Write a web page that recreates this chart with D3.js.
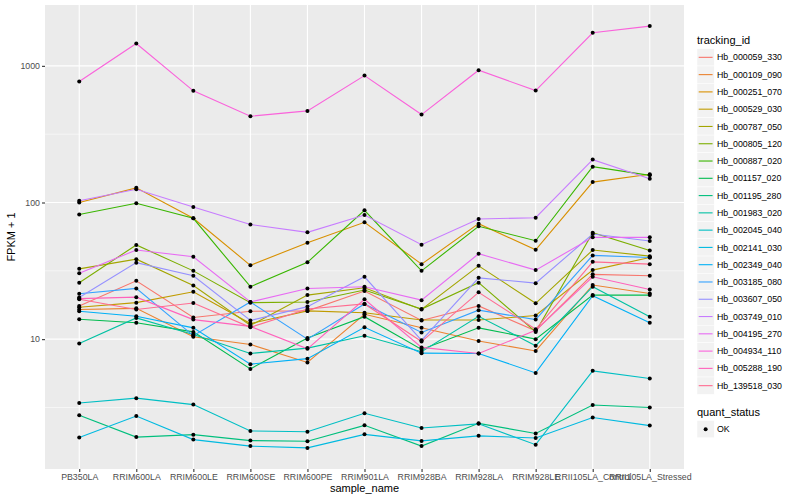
<!DOCTYPE html>
<html>
<head>
<meta charset="utf-8">
<script src="https://cdn.jsdelivr.net/npm/d3@7"></script>
<style>
  body { margin: 0; background: #fff; }
  text { font-family: "Liberation Sans", Arial, sans-serif; }
</style>
</head>
<body>
<div class="chart"></div>
<script>
// samples on the x axis
var sampleNames = ["PB350LA", "RRIM600LA", "RRIM600LE", "RRIM600SE", "RRIM600PE", "RRIM901LA",
  "RRIM928BA", "RRIM928LA", "RRIM928LE", "RRII105LA_Control", "RRII105LA_Stressed"];

// FPKM + 1 per gene
var hb_000059_330 = [17.5, 26.7, 14.4, 16.0, 16.1, 22.5, 13.7, 17.5, 11.5, 29.8, 29.1];
var hb_000109_090 = [16.5, 16.8, 10.4, 9.15, 6.75, 15.2, 12.1, 9.7, 8.2, 24.9, 21.6];
var hb_000251_070 = [100, 128, 76.6, 34.7, 50.8, 71.6, 35.4, 70, 45.1, 141, 161];
var hb_000529_030 = [17.1, 18.5, 22.2, 13.0, 16.1, 15.6, 13.8, 13.8, 14.9, 32.0, 39.6];
var hb_000787_050 = [32.7, 38.5, 24.7, 12.6, 21.0, 23.8, 16.5, 34.4, 18.3, 44.9, 40.5];
var hb_000805_120 = [25.9, 48.9, 31.6, 18.5, 18.7, 22.9, 16.6, 25.9, 11.3, 60.1, 44.5];
var hb_000887_020 = [81.8, 98.6, 76.6, 24.2, 36.5, 87.7, 31.6, 67, 52.5, 183, 158];
var hb_001157_020 = [14.0, 13.2, 11.3, 6.06, 10.2, 14.6, 8.4, 12.1, 10.0, 21.0, 21.0];
var hb_001195_280 = [2.77, 1.92, 2.00, 1.81, 1.79, 2.34, 1.65, 2.42, 2.04, 3.30, 3.16];
var hb_001983_020 = [9.3, 14.3, 10.8, 7.86, 8.6, 10.6, 8.1, 14.7, 8.95, 24.2, 14.6];
var hb_002045_040 = [3.41, 3.70, 3.32, 2.13, 2.10, 2.87, 2.24, 2.40, 1.69, 5.86, 5.15];
var hb_002141_030 = [1.91, 2.74, 1.84, 1.65, 1.60, 2.01, 1.80, 1.96, 1.89, 2.67, 2.33];
var hb_002349_040 = [16.0, 14.7, 12.1, 6.56, 7.2, 12.2, 7.9, 7.86, 5.66, 20.8, 13.2];
var hb_003185_080 = [21.5, 23.5, 10.6, 18.7, 10.0, 18.1, 11.2, 16.3, 13.9, 41.0, 39.6];
var hb_003607_050 = [20.2, 36.3, 29.1, 13.7, 17.3, 28.6, 9.8, 28.1, 25.7, 58.8, 52.2];
var hb_003749_010 = [103, 125, 92.7, 69, 60.5, 80.9, 49.1, 75.7, 77.4, 206, 149];
var hb_004195_270 = [30.3, 44.9, 40.1, 18.7, 23.5, 24.2, 19.3, 42.2, 32.0, 55.6, 55.6];
var hb_004934_110 = [768, 1456, 656, 428, 468, 849, 440, 929, 659, 1745, 1954];
var hb_005288_190 = [19.8, 20.3, 13.9, 12.4, 8.5, 19.6, 8.7, 7.86, 11.6, 28.6, 23.1];
var hb_139518_030 = [19.6, 16.5, 18.4, 12.2, 16.6, 18.1, 9.6, 22.0, 11.8, 36.8, 35.4];

var trackingIds = ["Hb_000059_330", "Hb_000109_090", "Hb_000251_070", "Hb_000529_030", "Hb_000787_050",
  "Hb_000805_120", "Hb_000887_020", "Hb_001157_020", "Hb_001195_280", "Hb_001983_020",
  "Hb_002045_040", "Hb_002141_030", "Hb_002349_040", "Hb_003185_080", "Hb_003607_050",
  "Hb_003749_010", "Hb_004195_270", "Hb_004934_110", "Hb_005288_190", "Hb_139518_030"];
var seriesValues = [hb_000059_330, hb_000109_090, hb_000251_070, hb_000529_030, hb_000787_050,
  hb_000805_120, hb_000887_020, hb_001157_020, hb_001195_280, hb_001983_020,
  hb_002045_040, hb_002141_030, hb_002349_040, hb_003185_080, hb_003607_050,
  hb_003749_010, hb_004195_270, hb_004934_110, hb_005288_190, hb_139518_030];
var yTicks = [10, 100, 1000];
var quantStatus = ["OK"];

// ggplot default hue palette for 20 levels
var palette = ["#F8766D", "#EA8331", "#D89000", "#C09B00", "#A3A500", "#7CAE00", "#39B600", "#00BB4E",
  "#00BF7D", "#00C1A3", "#00BFC4", "#00BAE0", "#00B0F6", "#35A2FF", "#9590FF", "#C77CFF",
  "#E76BF3", "#FA62DB", "#FF62BC", "#FF6C91"];

var svgWidth = 800;
var svgHeight = 500;
var panel = {left: 45, right: 684, top: 5, bottom: 469};

var svg = d3.select(".chart")
  .append("svg")
  .attr("width", svgWidth)
  .attr("height", svgHeight);

var series = trackingIds.map(function(id, i) {
  return {id: id, values: seriesValues[i].map(function(v, j) {
    return {sample: sampleNames[j], value: v};
  })};
});

var color = d3.scaleOrdinal().domain(trackingIds).range(palette);

// x is discrete, ggplot pads 0.6 of a step on each side
var xScale = d3.scalePoint()
  .domain(sampleNames)
  .range([panel.left, panel.right])
  .padding(0.6);

// y is log10 with 5% expansion in log space
var allValues = [].concat.apply([], seriesValues);
var lMin = Math.log10(d3.min(allValues));
var lMax = Math.log10(d3.max(allValues));
var pad = (lMax - lMin) * 0.05;
var yScale = d3.scaleLog()
  .domain([Math.pow(10, lMin - pad), Math.pow(10, lMax + pad)])
  .range([panel.bottom, panel.top]);

// panel background
svg.append("rect")
  .attr("x", panel.left)
  .attr("y", panel.top)
  .attr("width", panel.right - panel.left)
  .attr("height", panel.bottom - panel.top)
  .attr("fill", "#EBEBEB");

// minor grid halfway between decades
var minorTicks = [Math.sqrt(10), Math.sqrt(1000), Math.sqrt(100000)];
svg.append("g").selectAll("line")
  .data(minorTicks)
  .enter()
  .append("line")
  .attr("x1", panel.left)
  .attr("x2", panel.right)
  .attr("y1", function(d) { return yScale(d); })
  .attr("y2", function(d) { return yScale(d); })
  .attr("stroke", "#fff")
  .attr("stroke-width", 0.55);

svg.append("g").selectAll("line")
  .data(yTicks)
  .enter()
  .append("line")
  .attr("x1", panel.left)
  .attr("x2", panel.right)
  .attr("y1", function(d) { return yScale(d); })
  .attr("y2", function(d) { return yScale(d); })
  .attr("stroke", "#fff")
  .attr("stroke-width", 1.1);

svg.append("g").selectAll("line")
  .data(sampleNames)
  .enter()
  .append("line")
  .attr("x1", function(d) { return xScale(d); })
  .attr("x2", function(d) { return xScale(d); })
  .attr("y1", panel.top)
  .attr("y2", panel.bottom)
  .attr("stroke", "#fff")
  .attr("stroke-width", 1.1);

// lines
var line = d3.line()
  .x(function(d) { return xScale(d.sample); })
  .y(function(d) { return yScale(d.value); });

svg.append("g").selectAll("path")
  .data(series)
  .enter()
  .append("path")
  .attr("d", function(d) { return line(d.values); })
  .attr("fill", "none")
  .attr("stroke", function(d) { return color(d.id); })
  .attr("stroke-width", 1.1);

// points
svg.append("g").selectAll("g")
  .data(series)
  .enter()
  .append("g")
  .selectAll("circle")
  .data(function(d) { return d.values; })
  .enter()
  .append("circle")
  .attr("cx", function(d) { return xScale(d.sample); })
  .attr("cy", function(d) { return yScale(d.value); })
  .attr("r", 2)
  .attr("fill", "#000");

// axes
var bottomAxis = d3.axisBottom(xScale).tickSize(3).tickPadding(2);
var leftAxis = d3.axisLeft(yScale).tickValues(yTicks).tickFormat(d3.format("d")).tickSize(3).tickPadding(2);

var gx = svg.append("g")
  .attr("transform", "translate(0," + panel.bottom + ")")
  .call(bottomAxis);
var gy = svg.append("g")
  .attr("transform", "translate(" + panel.left + ",0)")
  .call(leftAxis);

[gx, gy].forEach(function(g) {
  g.select(".domain").remove();
  g.selectAll(".tick line").attr("stroke", "#333333").attr("stroke-width", 1.1);
  g.selectAll(".tick text")
    .attr("fill", "#4D4D4D")
    .style("font-size", "8.8px")
    .style("font-family", "'Liberation Sans', Arial, sans-serif");
});

svg.append("text")
  .attr("x", (panel.left + panel.right) / 2)
  .attr("y", 492)
  .attr("text-anchor", "middle")
  .style("font-size", "11px")
  .text("sample_name");

svg.append("text")
  .attr("transform", "rotate(-90)")
  .attr("x", -(panel.top + panel.bottom) / 2)
  .attr("y", 15)
  .attr("text-anchor", "middle")
  .style("font-size", "11px")
  .text("FPKM + 1");

// legend: tracking_id
var keySize = 17.28;
var legendX = 697;
var legendTop = 48.7;

svg.append("text")
  .attr("x", legendX)
  .attr("y", 44)
  .style("font-size", "11px")
  .text("tracking_id");

var keys = svg.append("g").selectAll("g")
  .data(trackingIds)
  .enter()
  .append("g")
  .attr("transform", function(d, i) {
    return "translate(" + legendX + "," + (legendTop + i * keySize) + ")";
  });

keys.append("rect")
  .attr("width", keySize)
  .attr("height", keySize)
  .attr("fill", "#F2F2F2")
  .attr("stroke", "#fff")
  .attr("stroke-width", 0.5);

keys.append("line")
  .attr("x1", 1.7)
  .attr("x2", keySize - 1.7)
  .attr("y1", keySize / 2)
  .attr("y2", keySize / 2)
  .attr("stroke", function(d) { return color(d); })
  .attr("stroke-width", 1.1);

keys.append("text")
  .attr("x", keySize + 2.6)
  .attr("y", keySize / 2 + 3.1)
  .style("font-size", "8.8px")
  .text(function(d) { return d; });

// legend: quant_status
svg.append("text")
  .attr("x", legendX)
  .attr("y", 416)
  .style("font-size", "11px")
  .text("quant_status");

var qKeys = svg.append("g").selectAll("g")
  .data(quantStatus)
  .enter()
  .append("g")
  .attr("transform", function(d, i) {
    return "translate(" + legendX + "," + (420.5 + i * keySize) + ")";
  });

qKeys.append("rect")
  .attr("width", keySize)
  .attr("height", keySize)
  .attr("fill", "#F2F2F2")
  .attr("stroke", "#fff")
  .attr("stroke-width", 0.5);

qKeys.append("circle")
  .attr("cx", keySize / 2)
  .attr("cy", keySize / 2)
  .attr("r", 2)
  .attr("fill", "#000");

qKeys.append("text")
  .attr("x", keySize + 2.6)
  .attr("y", keySize / 2 + 3.1)
  .style("font-size", "8.8px")
  .text(function(d) { return d; });
</script>
</body>
</html>
